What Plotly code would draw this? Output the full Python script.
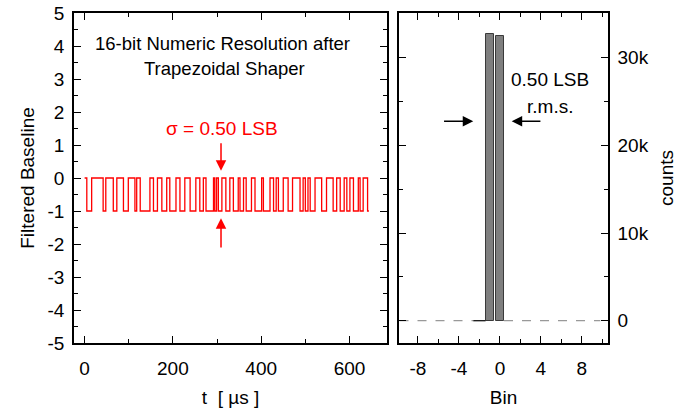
import plotly.graph_objects as go

# ---- data ----
# toggle times (µs) of the filtered baseline square wave, starting level 0
t_start = 0
t_end = 644
start_level = 0
toggle_times = [5, 16, 42, 48, 65, 73, 88, 99, 114, 118, 126, 148, 156, 165, 175, 186,
                193, 207, 216, 227, 239, 252, 261, 269, 275, 292, 295, 299, 303, 311,
                320, 329, 337, 348, 352, 360, 366, 378, 386, 401, 405, 420, 428, 434,
                439, 450, 461, 471, 488, 495, 500, 506, 511, 522, 537, 548, 563, 571,
                579, 588, 594, 601, 609, 620, 624, 631, 641]

hist_bins = [-1, 0]
hist_counts = [32700, 32450]

left_yticks = [5, 4, 3, 2, 1, 0, -1, -2, -3, -4, -5]
left_yticklabels = ["5", "4", "3", "2", "1", "0", "-1", "-2", "-3", "-4", "-5"]
left_xticks = [0, 200, 400, 600]
right_xticks = [-8, -4, 0, 4, 8]
right_xticklabels = ["-8", "-4", "0", "4", "8"]
right_yticks = [0, 10000, 20000, 30000]
right_yticklabels = ["0", "10k", "20k", "30k"]

# build step series
xs = [t_start]
ys = [start_level]
lvl = start_level
for tt in toggle_times:
    lvl = -1 - lvl
    xs.append(tt)
    ys.append(lvl)
xs.append(t_end)
ys.append(lvl)

FONT = "Arial, Liberation Sans, sans-serif"
fs = 19

fig = go.Figure()
fig.add_trace(go.Scatter(x=xs, y=ys, mode="lines", line=dict(color="#ff0000", width=1.3, shape="hv"),
                         xaxis="x", yaxis="y", showlegend=False, hoverinfo="skip"))

# zero line of histogram
fig.add_trace(go.Scatter(x=[-9.8, -2.6], y=[0, 0], mode="lines",
                         line=dict(color="#999999", width=1.2, dash="dash"),
                         xaxis="x2", yaxis="y2", showlegend=False))
fig.add_trace(go.Scatter(x=[-2.6, -1.4], y=[0, 0], mode="lines",
                         line=dict(color="#000000", width=1.2),
                         xaxis="x2", yaxis="y2", showlegend=False))
fig.add_trace(go.Scatter(x=[0.4, 9.8], y=[0, 0], mode="lines",
                         line=dict(color="#999999", width=1.2, dash="dash"),
                         xaxis="x2", yaxis="y2", showlegend=False))
fig.add_trace(go.Bar(x=hist_bins, y=hist_counts, width=0.8,
                     marker=dict(color="#7f7f7f", line=dict(color="#3a3a3a", width=1)),
                     xaxis="x2", yaxis="y2", showlegend=False))

axis_common = dict(showline=True, linecolor="black", linewidth=1.5, mirror="allticks",
                   ticks="inside", ticklen=7, tickwidth=1.2, tickcolor="black",
                   showgrid=False, zeroline=False, automargin=False,
                   tickfont=dict(family=FONT, size=fs, color="black"))
title_font = dict(family=FONT, size=fs, color="black")

d1 = (387 - 74) / 534
d2 = (399 - 74) / 534

fig.update_layout(
    width=696, height=411,
    margin=dict(l=74, r=88, t=13, b=68),
    paper_bgcolor="white", plot_bgcolor="white",
    bargap=0,
    xaxis=dict(domain=[0, d1], range=[-24, 685], tickvals=left_xticks,
               minor=dict(ticks="inside", ticklen=4, dtick=100, tick0=0, tickcolor="black"),
               ticklabelstandoff=7,
               title=dict(text="t  [ µs ]", font=title_font, standoff=13),
               anchor="y", **axis_common),
    yaxis=dict(domain=[0, 1], range=[-5, 5], tickvals=left_yticks, ticktext=left_yticklabels,
               minor=dict(ticks="inside", ticklen=4, dtick=0.5, tick0=0, tickcolor="black"),
               ticklabelstandoff=4,
               title=dict(text="Filtered Baseline", font=title_font, standoff=8),
               anchor="x", **axis_common),
    xaxis2=dict(domain=[d2, 1], range=[-9.85, 10.55], tickvals=right_xticks, ticktext=right_xticklabels,
                minor=dict(ticks="inside", ticklen=4, dtick=2, tick0=0, tickcolor="black"),
                ticklabelstandoff=7,
                title=dict(text="Bin", font=title_font, standoff=13),
                anchor="y2", **axis_common),
    yaxis2=dict(domain=[0, 1], range=[-2540, 35080], tickvals=right_yticks, ticktext=right_yticklabels,
                side="right",
                minor=dict(ticks="inside", ticklen=4, dtick=5000, tick0=0, tickcolor="black"),
                ticklabelstandoff=4,
                title=dict(text="counts", font=title_font, standoff=12),
                anchor="x2", **axis_common),
)

ann = []
ann.append(dict(x=312, y=4.08, xref="x", yref="y", text="16-bit Numeric Resolution after",
                showarrow=False, font=dict(family=FONT, size=18.5, color="black")))
ann.append(dict(x=318, y=3.33, xref="x", yref="y", text="Trapezoidal Shaper",
                showarrow=False, font=dict(family=FONT, size=18.5, color="black")))
ann.append(dict(x=311, y=1.5, xref="x", yref="y", text="σ = 0.50 LSB",
                showarrow=False, font=dict(family=FONT, size=19, color="#ff0000")))
# red arrows
ann.append(dict(x=309, y=0.22, ax=309, ay=1.1, xref="x", yref="y", axref="x", ayref="y",
                text="", showarrow=True, arrowhead=2, arrowsize=1.4, arrowwidth=1.5, arrowcolor="#ff0000"))
ann.append(dict(x=309, y=-1.22, ax=309, ay=-2.15, xref="x", yref="y", axref="x", ayref="y",
                text="", showarrow=True, arrowhead=2, arrowsize=1.4, arrowwidth=1.5, arrowcolor="#ff0000"))
# right panel
ann.append(dict(x=4.9, y=27500, xref="x2", yref="y2", text="0.50 LSB",
                showarrow=False, font=dict(family=FONT, size=19, color="black")))
ann.append(dict(x=4.9, y=24450, xref="x2", yref="y2", text="r.m.s.",
                showarrow=False, font=dict(family=FONT, size=19, color="black")))
ann.append(dict(x=-2.6, y=22750, ax=-5.6, ay=22750, xref="x2", yref="y2", axref="x2", ayref="y2",
                text="", showarrow=True, arrowhead=2, arrowsize=1.4, arrowwidth=1.5, arrowcolor="black"))
ann.append(dict(x=1.15, y=22750, ax=4.1, ay=22750, xref="x2", yref="y2", axref="x2", ayref="y2",
                text="", showarrow=True, arrowhead=2, arrowsize=1.4, arrowwidth=1.5, arrowcolor="black"))
fig.update_layout(annotations=ann)

fig.write_html("out.html", config={"displayModeBar": False},
               post_script="document.body.style.margin='0px';")
